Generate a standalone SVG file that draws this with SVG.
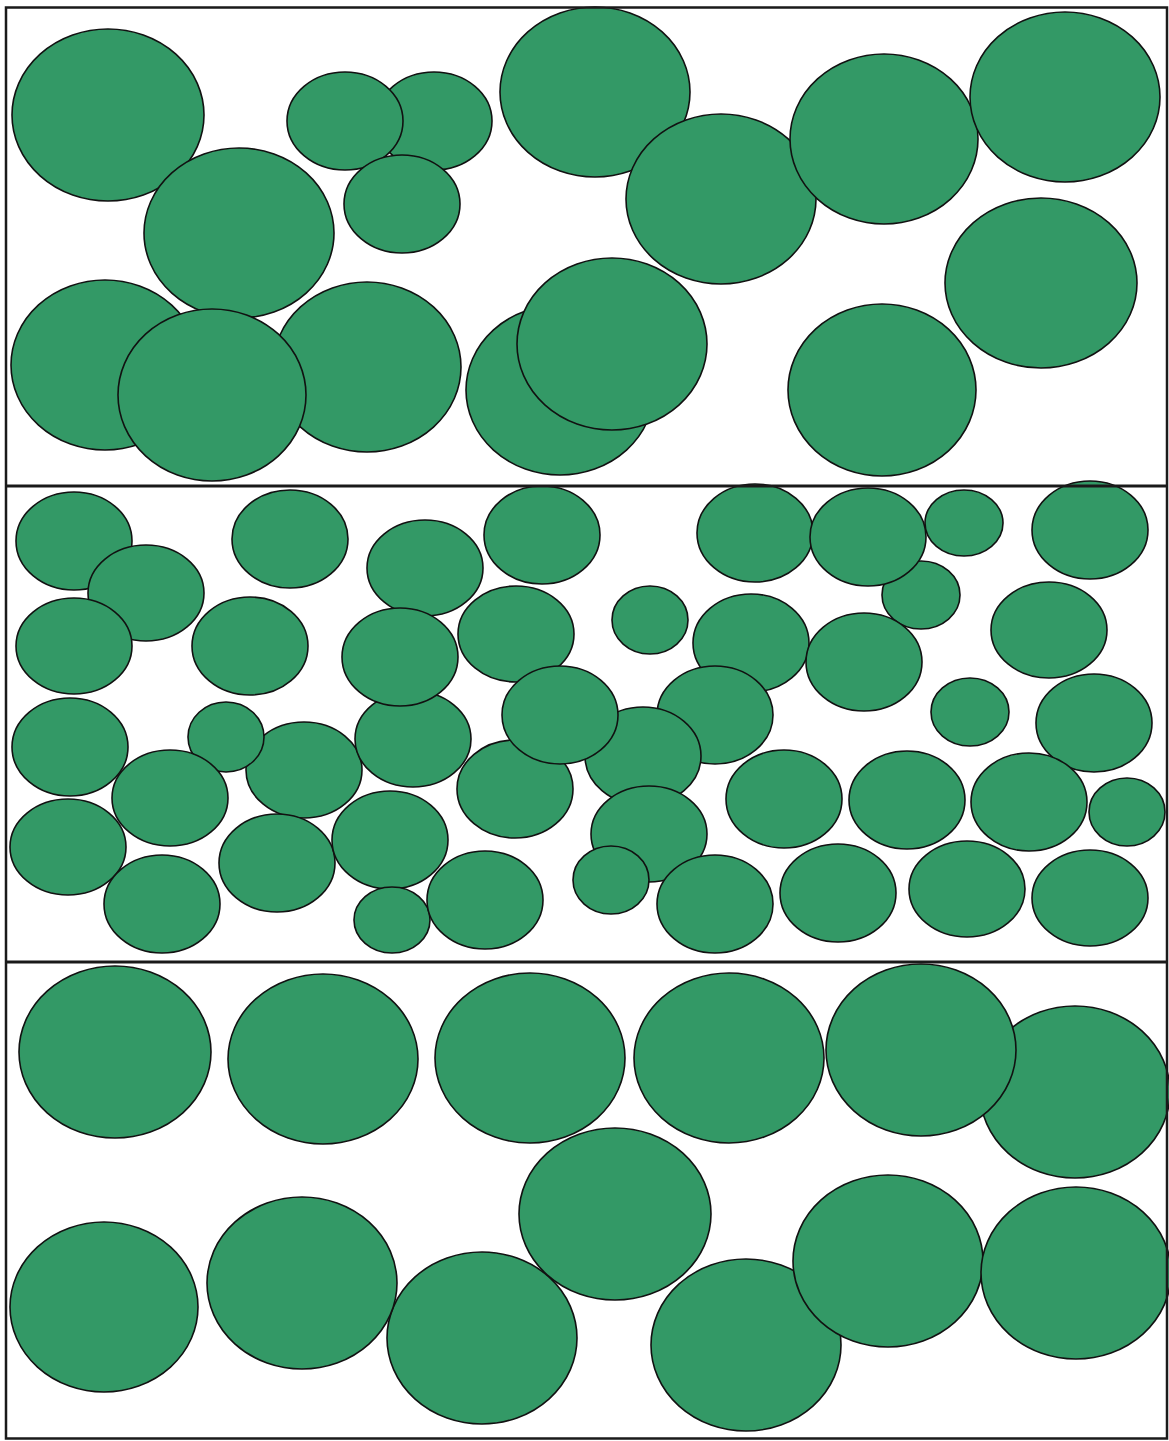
<svg xmlns="http://www.w3.org/2000/svg" width="1169" height="1441" viewBox="0 0 1169 1441">
<style>
ellipse{fill:#339966;stroke:#111;stroke-width:1.6}
.frame{fill:none;stroke:#1a1a1a;stroke-width:2.5}
.div{stroke:#1a1a1a;stroke-width:3}
</style>
<rect width="1169" height="1441" fill="#fff"/>
<g id="panel1">
<ellipse cx="108" cy="115" rx="96" ry="86"/>
<ellipse cx="239" cy="233" rx="95" ry="85"/>
<ellipse cx="434" cy="121" rx="58" ry="49"/>
<ellipse cx="345" cy="121" rx="58" ry="49"/>
<ellipse cx="402" cy="204" rx="58" ry="49"/>
<ellipse cx="595" cy="92" rx="95" ry="85"/>
<ellipse cx="721" cy="199" rx="95" ry="85"/>
<ellipse cx="884" cy="139" rx="94" ry="85"/>
<ellipse cx="1065" cy="97" rx="95" ry="85"/>
<ellipse cx="1041" cy="283" rx="96" ry="85"/>
<ellipse cx="882" cy="390" rx="94" ry="86"/>
<ellipse cx="560" cy="390" rx="94" ry="85"/>
<ellipse cx="612" cy="344" rx="95" ry="86"/>
<ellipse cx="105" cy="365" rx="94" ry="85"/>
<ellipse cx="367" cy="367" rx="94" ry="85"/>
<ellipse cx="212" cy="395" rx="94" ry="86"/>
</g>
<g id="panel2">
<ellipse cx="74" cy="541" rx="58" ry="49"/>
<ellipse cx="146" cy="593" rx="58" ry="48"/>
<ellipse cx="290" cy="539" rx="58" ry="49"/>
<ellipse cx="425" cy="568" rx="58" ry="48"/>
<ellipse cx="542" cy="535" rx="58" ry="49"/>
<ellipse cx="755" cy="533" rx="58" ry="49"/>
<ellipse cx="921" cy="595" rx="39" ry="34"/>
<ellipse cx="868" cy="537" rx="58" ry="49"/>
<ellipse cx="964" cy="523" rx="39" ry="33"/>
<ellipse cx="1090" cy="530" rx="58" ry="49"/>
<ellipse cx="74" cy="646" rx="58" ry="48"/>
<ellipse cx="250" cy="646" rx="58" ry="49"/>
<ellipse cx="516" cy="634" rx="58" ry="48"/>
<ellipse cx="650" cy="620" rx="38" ry="34"/>
<ellipse cx="751" cy="643" rx="58" ry="49"/>
<ellipse cx="864" cy="662" rx="58" ry="49"/>
<ellipse cx="1049" cy="630" rx="58" ry="48"/>
<ellipse cx="70" cy="747" rx="58" ry="49"/>
<ellipse cx="304" cy="770" rx="58" ry="48"/>
<ellipse cx="226" cy="737" rx="38" ry="35"/>
<ellipse cx="413" cy="739" rx="58" ry="48"/>
<ellipse cx="400" cy="657" rx="58" ry="49"/>
<ellipse cx="515" cy="789" rx="58" ry="49"/>
<ellipse cx="715" cy="715" rx="58" ry="49"/>
<ellipse cx="643" cy="756" rx="58" ry="49"/>
<ellipse cx="560" cy="715" rx="58" ry="49"/>
<ellipse cx="970" cy="712" rx="39" ry="34"/>
<ellipse cx="1094" cy="723" rx="58" ry="49"/>
<ellipse cx="170" cy="798" rx="58" ry="48"/>
<ellipse cx="784" cy="799" rx="58" ry="49"/>
<ellipse cx="907" cy="800" rx="58" ry="49"/>
<ellipse cx="1029" cy="802" rx="58" ry="49"/>
<ellipse cx="1127" cy="812" rx="38" ry="34"/>
<ellipse cx="68" cy="847" rx="58" ry="48"/>
<ellipse cx="277" cy="863" rx="58" ry="49"/>
<ellipse cx="390" cy="840" rx="58" ry="49"/>
<ellipse cx="649" cy="834" rx="58" ry="48"/>
<ellipse cx="162" cy="904" rx="58" ry="49"/>
<ellipse cx="392" cy="920" rx="38" ry="33"/>
<ellipse cx="485" cy="900" rx="58" ry="49"/>
<ellipse cx="715" cy="904" rx="58" ry="49"/>
<ellipse cx="611" cy="880" rx="38" ry="34"/>
<ellipse cx="838" cy="893" rx="58" ry="49"/>
<ellipse cx="967" cy="889" rx="58" ry="48"/>
<ellipse cx="1090" cy="898" rx="58" ry="48"/>
</g>
<g id="panel3">
<ellipse cx="115" cy="1052" rx="96" ry="86"/>
<ellipse cx="323" cy="1059" rx="95" ry="85"/>
<ellipse cx="530" cy="1058" rx="95" ry="85"/>
<ellipse cx="729" cy="1058" rx="95" ry="85"/>
<ellipse cx="1075" cy="1092" rx="95" ry="86"/>
<ellipse cx="921" cy="1050" rx="95" ry="86"/>
<ellipse cx="482" cy="1338" rx="95" ry="86"/>
<ellipse cx="615" cy="1214" rx="96" ry="86"/>
<ellipse cx="104" cy="1307" rx="94" ry="85"/>
<ellipse cx="302" cy="1283" rx="95" ry="86"/>
<ellipse cx="746" cy="1345" rx="95" ry="86"/>
<ellipse cx="888" cy="1261" rx="95" ry="86"/>
<ellipse cx="1076" cy="1273" rx="95" ry="86"/>
</g>
<g id="frame">
<rect class="frame" x="6" y="7.5" width="1161" height="1431"/>
<line class="div" x1="6" y1="486" x2="1167" y2="486"/>
<line class="div" x1="6" y1="962" x2="1167" y2="962"/>
</g>
</svg>
